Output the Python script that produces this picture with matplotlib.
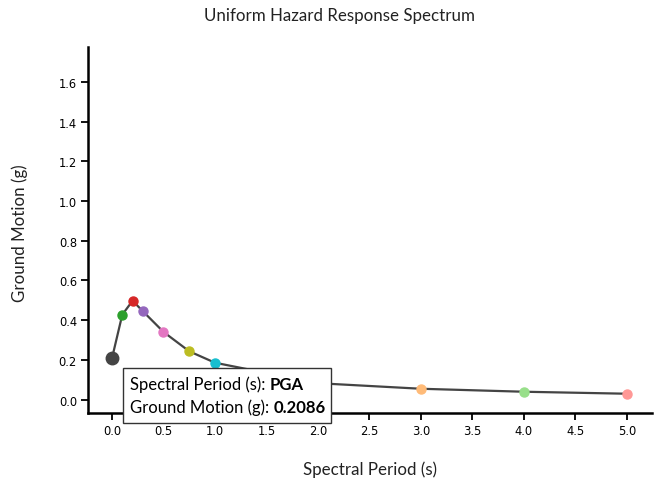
import matplotlib
matplotlib.use("Agg")
import matplotlib.pyplot as plt
from matplotlib.patches import Rectangle

periods = [0.0, 0.1, 0.2, 0.3, 0.5, 0.75, 1.0, 2.0, 3.0, 4.0, 5.0]
period_labels = ["PGA", "0.1", "0.2", "0.3", "0.5", "0.75", "1", "2", "3", "4", "5"]
ground_motion = [0.2086, 0.428, 0.498, 0.445, 0.341, 0.2435, 0.186, 0.083, 0.055, 0.040, 0.030]
point_colors = ["#444444", "#2ca02c", "#d62728", "#9467bd", "#e377c2", "#bcbd22",
                "#17becf", "#aec7e8", "#ffbb78", "#98df8a", "#ff9896"]
x_ticks = [0.0, 0.5, 1.0, 1.5, 2.0, 2.5, 3.0, 3.5, 4.0, 4.5, 5.0]
y_ticks = [0.0, 0.2, 0.4, 0.6, 0.8, 1.0, 1.2, 1.4, 1.6]

W, H = 662, 489
fig = plt.figure(figsize=(W / 100, H / 100), dpi=100)
ax = fig.add_axes([88 / W, 1 - 414 / H, (652 - 88) / W, (414 - 48) / H])

ax.plot(periods, ground_motion, color="#444444", lw=1.6, zorder=2)
for i, (p, g, c) in enumerate(zip(periods, ground_motion, point_colors)):
    ms = 9 if i == 0 else 6.5
    ax.plot([p], [g], marker="o", ms=ms, color=c, mec=c, ls="none", zorder=3)

ax.set_xlim(-0.233, 5.243)
ax.set_ylim(-0.067, 1.775)
ax.set_xticks(x_ticks)
ax.set_xticklabels([f"{v:.1f}" for v in x_ticks])
ax.set_yticks(y_ticks)
ax.set_yticklabels([f"{v:.1f}" for v in y_ticks])
for s in ["top", "right"]:
    ax.spines[s].set_visible(False)
for s in ["left", "bottom"]:
    ax.spines[s].set_linewidth(1.8)
ax.tick_params(axis="both", length=5, width=1.3, labelsize=8.3, colors="black", pad=3)

font = "Lato"
fig.text(339 / W, 1 - 16 / H, "Uniform Hazard Response Spectrum", ha="center", va="center",
         fontsize=12.2, family=font, color="#222222")
fig.text(370 / W, 1 - 470 / H, "Spectral Period (s)", ha="center", va="center",
         fontsize=12.2, family=font, color="#222222")
fig.text(20 / W, 1 - 233 / H, "Ground Motion (g)", ha="center", va="center", rotation=90,
         fontsize=12.2, family=font, color="#222222")

# tooltip
x0, y0, x1, y1 = 123, 369, 331, 424
fig.patches.append(Rectangle((x0 / W, 1 - y1 / H), (x1 - x0) / W, (y1 - y0) / H,
                             transform=fig.transFigure, facecolor="white",
                             edgecolor="#333333", lw=1, zorder=10))
lines = [("Spectral Period (s): ", period_labels[0], 385),
         ("Ground Motion (g): ", f"{ground_motion[0]:.4f}", 408)]
renderer = fig.canvas.get_renderer()
for lab, val, yy in lines:
    t = fig.text(130 / W, 1 - yy / H, lab, ha="left", va="center", fontsize=12,
                 family=font, color="black", zorder=11)
    bb = t.get_window_extent(renderer=renderer)
    fig.text(bb.x1 / W, 1 - yy / H, val, ha="left", va="center", fontsize=12,
             family=font, weight="bold", color="black", zorder=11)

fig.savefig("out.png", dpi=100)
